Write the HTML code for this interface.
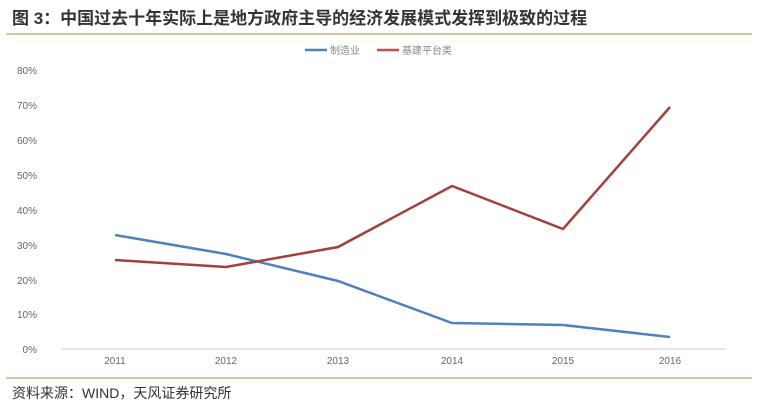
<!DOCTYPE html><html><head><meta charset="utf-8"><style>body{margin:0;background:#fff;width:760px;height:404px;overflow:hidden;font-family:"Liberation Sans","Noto Sans CJK SC",sans-serif}</style></head><body>
<svg width="760" height="404" xmlns="http://www.w3.org/2000/svg" font-family="Liberation Sans, Noto Sans CJK SC, sans-serif">
<text x="12" y="24" font-size="17" font-weight="bold" fill="#333">图 3：中国过去十年实际上是地方政府主导的经济发展模式发挥到极致的过程</text>
<line x1="6" y1="34" x2="752" y2="34" stroke="#c8b07a" stroke-width="1.5"/>
<line x1="305" y1="50" x2="327" y2="50" stroke="#4f81bd" stroke-width="2.5"/>
<text x="330" y="54" font-size="10" fill="#888">制造业</text>
<line x1="377" y1="50" x2="399" y2="50" stroke="#c0504d" stroke-width="2.5"/>
<text x="402" y="54" font-size="10" fill="#888">基建平台类</text>
<g font-size="10" fill="#666" text-anchor="end">
<text x="37" y="74">80%</text><text x="37" y="109">70%</text><text x="37" y="144">60%</text><text x="37" y="179">50%</text><text x="37" y="214">40%</text><text x="37" y="249">30%</text><text x="37" y="284">20%</text><text x="37" y="318">10%</text><text x="37" y="353">0%</text></g>
<line x1="62" y1="349" x2="726" y2="349" stroke="#ccc"/>
<g font-size="10" fill="#666" text-anchor="middle">
<text x="115" y="364">2011</text><text x="226" y="364">2012</text><text x="338" y="364">2013</text><text x="452" y="364">2014</text><text x="563" y="364">2015</text><text x="670" y="364">2016</text></g>
<polyline fill="none" stroke="#4f81bd" stroke-width="2.5" points="115,235 226,254 338,281 452,323 563,325 670,337"/>
<polyline fill="none" stroke="#a33f3c" stroke-width="2.5" points="115,260 226,267 338,247 452,186 563,229 670,107"/>
<line x1="6" y1="378" x2="752" y2="378" stroke="#c8b07a" stroke-width="1.5"/>
<text x="12" y="398" font-size="14" fill="#333">资料来源：WIND，天风证券研究所</text>
</svg></body></html>
